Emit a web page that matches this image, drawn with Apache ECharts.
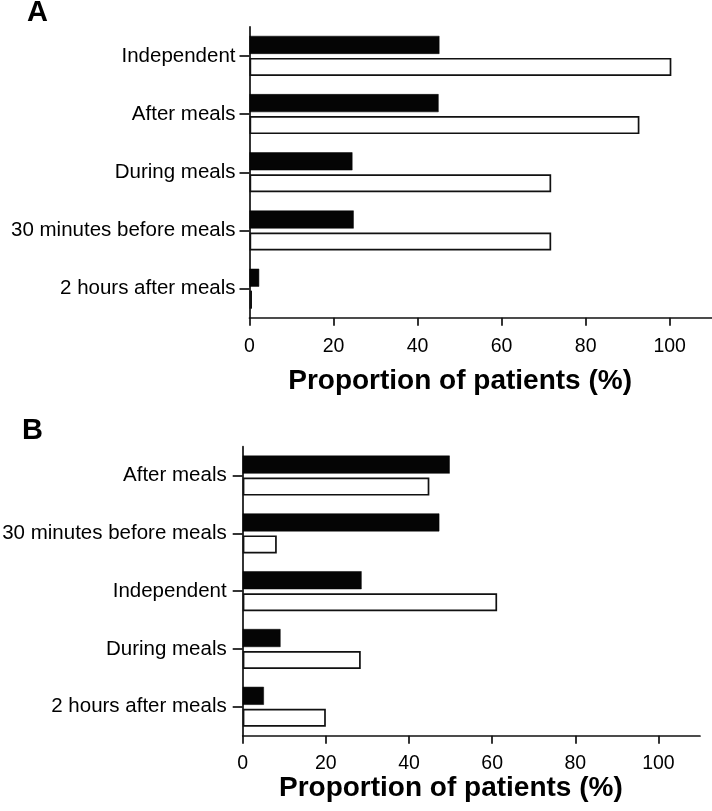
<!DOCTYPE html>
<html>
<head>
<meta charset="utf-8">
<script src="https://cdn.jsdelivr.net/npm/echarts@6/dist/echarts.min.js"></script>
<style>
html,body{margin:0;padding:0;background:#fff;}
#chart{width:712px;height:811px;}
</style>
</head>
<body>
<div id="chart"></div>
<script>
// Panel A
const categoriesA = ["Independent", "After meals", "During meals", "30 minutes before meals", "2 hours after meals"];
const blackA = [45.2, 45.0, 24.5, 24.8, 2.3];
const whiteA = [100.4, 92.8, 71.8, 71.8, 0.6];
// Panel B
const categoriesB = ["After meals", "30 minutes before meals", "Independent", "During meals", "2 hours after meals"];
const blackB = [49.8, 47.3, 28.6, 9.1, 5.1];
const whiteB = [44.9, 8.2, 61.2, 28.4, 20.0];
// Axis
const xTicks = [0, 20, 40, 60, 80, 100];
const xMax = 110;
const axisName = "Proportion of patients (%)";
const panelLabels = ["A", "B"];

const FONT = "'Liberation Sans', Arial, sans-serif";
const INK = '#111';

function valueAxis(gridIndex, nameGap, labelMargin) {
  return {
    type: 'value', gridIndex: gridIndex, min: 0, max: xMax, interval: 20,
    name: axisName, nameLocation: 'middle', nameGap: nameGap,
    nameTextStyle: { fontFamily: FONT, fontSize: 28, fontWeight: 'bold', color: '#000', padding: [0, 41, 0, 0] },
    axisLine: { show: true, lineStyle: { color: INK, width: 1.7 } },
    axisTick: { show: true, length: 8, lineStyle: { color: INK, width: 1.7 }, customValues: xTicks },
    axisLabel: { fontFamily: FONT, fontSize: 19.5, color: '#000', margin: labelMargin, customValues: xTicks },
    splitLine: { show: false }
  };
}
function catAxis(gridIndex, cats, margin) {
  return {
    type: 'category', gridIndex: gridIndex, data: cats, inverse: true,
    axisLine: { show: true, lineStyle: { color: INK, width: 1.7 } },
    axisTick: { show: true, alignWithLabel: true, length: 10, lineStyle: { color: INK, width: 1.7 } },
    axisLabel: { fontFamily: FONT, fontSize: 20.5, color: '#000', margin: margin },
    splitLine: { show: false }
  };
}
function barSeries(idx, name, data, filled) {
  return {
    type: 'bar', name: name, xAxisIndex: idx, yAxisIndex: idx, data: data,
    barWidth: 18, barGap: '22%',
    itemStyle: filled
      ? { color: '#050505', borderColor: '#050505', borderWidth: 0.5 }
      : { color: '#ffffff', borderColor: INK, borderWidth: 1.7 },
    emphasis: { disabled: true },
    animation: false
  };
}

const chart = echarts.init(document.getElementById('chart'), null, { renderer: 'canvas' });
chart.setOption({
  backgroundColor: '#fff',
  animation: false,
  title: [
    { text: panelLabels[0], left: 27, top: -2, padding: 0, textStyle: { fontFamily: FONT, fontSize: 29, fontWeight: 'bold', color: '#000', lineHeight: 29 } },
    { text: panelLabels[1], left: 22, top: 416.5, padding: 0, textStyle: { fontFamily: FONT, fontSize: 29, fontWeight: 'bold', color: '#000', lineHeight: 29 } }
  ],
  grid: [
    { left: 249.5, top: 26.8, width: 462.2, height: 291, outerBoundsMode: 'none' },
    { left: 242.7, top: 446.7, width: 457.3, height: 289, outerBoundsMode: 'none' }
  ],
  xAxis: [valueAxis(0, 49, 19), valueAxis(1, 33, 18)],
  yAxis: [catAxis(0, categoriesA, 14), catAxis(1, categoriesB, 16)],
  series: [
    barSeries(0, 'Black A', blackA, true),
    barSeries(0, 'White A', whiteA, false),
    barSeries(1, 'Black B', blackB, true),
    barSeries(1, 'White B', whiteB, false)
  ]
});
</script>
</body>
</html>
